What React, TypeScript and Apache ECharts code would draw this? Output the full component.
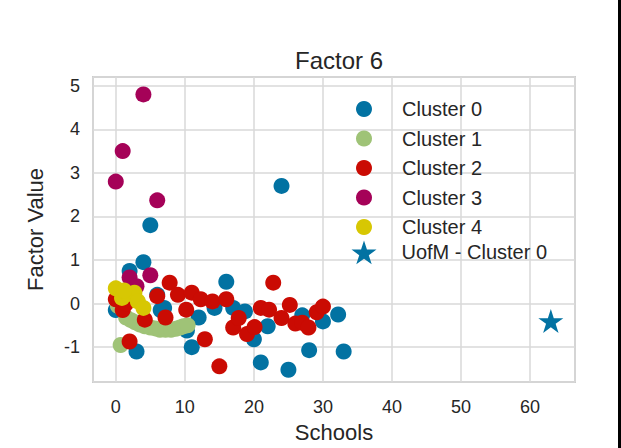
import React, { useEffect, useRef } from "react";
import * as echarts from "echarts";

const clusterNames = ["Cluster 0", "Cluster 1", "Cluster 2", "Cluster 3", "Cluster 4"];
const starName = "UofM - Cluster 0";
const colors = ["#0272a2", "#9fc377", "#ca0b03", "#a50258", "#d7c703"];

const cluster0 = [
  [0, -0.15], [2, 0.75], [4, 0.95], [5, 1.8], [24, 2.7], [6, 0.2], [7, -0.1], [6.5, -0.15],
  [3, -1.1], [10.3, -0.62], [11, -1.0], [12, -0.32], [14.3, -0.1], [16, 0.5], [17, -0.1],
  [18.7, -0.18], [20, -0.82], [22, -0.52], [21, -1.35], [25, -1.52], [27, -0.27], [28, -1.07],
  [30, -0.41], [32.2, -0.25], [33, -1.1],
];
const cluster1 = [
  [0.7, -0.95], [0.3, -0.05], [1.5, -0.32], [2.2, -0.38], [2.8, -0.43], [3.5, -0.48], [4.2, -0.52],
  [5, -0.55], [5.7, -0.57], [6.4, -0.6], [7.2, -0.6], [8, -0.6], [8.7, -0.58], [9.3, -0.55],
  [9.8, -0.52], [10.4, -0.5],
];
const cluster2 = [
  [0, 0.1], [1, -0.15], [1.5, 0.0], [2, -0.87], [4.2, -0.37], [6, 0.17], [7.2, -0.32], [7.8, 0.48],
  [9, 0.2], [10.2, -0.14], [11, 0.25], [12.3, 0.1], [12.9, -0.82], [14, 0.05], [15, -1.44],
  [16, 0.1], [17, -0.55], [17.8, -0.33], [19, -0.7], [20.1, -0.54], [21, -0.1], [22.2, -0.14],
  [22.8, 0.48], [24, -0.33], [25.2, -0.03], [26, -0.46], [27, -0.44], [27.9, -0.55], [29.1, -0.2],
  [30, -0.07],
];
const cluster3 = [[4, 4.8], [1, 3.5], [0, 2.8], [6, 2.37], [5, 0.65], [2, 0.6], [3, 0.4]];
const cluster4 = [[0, 0.35], [0.9, 0.13], [1.7, 0.22], [2.7, 0.25], [3.2, 0.05], [4, -0.1], [1.2, 0.3]];
const uofm = [[63, -0.4]];

const clusterData = [cluster0, cluster1, cluster2, cluster3, cluster4];

const STAR = "path://M50,0 L61.2,34.5 L97.6,34.5 L68.2,55.9 L79.4,90.5 L50,69.1 L20.6,90.5 L31.8,55.9 L2.4,34.5 L38.8,34.5 Z";

const FONT = "Liberation Sans, Arial, sans-serif";
const TXT = "#262626";

export default function App() {
  const ref = useRef<HTMLDivElement>(null);
  useEffect(() => {
    document.body.style.margin = "0";
    const chart = echarts.init(ref.current!, undefined, { renderer: "svg" });
    const series: any[] = clusterData.map((d, i) => ({
      name: clusterNames[i],
      type: "scatter",
      data: d,
      symbol: "circle",
      symbolSize: 16,
      itemStyle: { color: colors[i], opacity: 1 },
      z: 2 + i,
    }));
    series.push({
      name: starName,
      type: "scatter",
      data: uofm,
      symbol: STAR,
      symbolSize: [25, 24],
      itemStyle: { color: colors[0], opacity: 1 },
      z: 10,
    });
    chart.setOption({
      animation: false,
      backgroundColor: "#ffffff",
      textStyle: { fontFamily: FONT, color: TXT },
      title: {
        text: "Factor 6",
        left: 334,
        top: 43,
        textAlign: "center",
        textStyle: { fontFamily: FONT, fontSize: 24, fontWeight: "normal", color: TXT },
      },
      grid: {
        left: 93,
        right: 46,
        top: 77,
        bottom: 65,
        show: true,
        borderColor: "#cccccc",
        borderWidth: 2,
        backgroundColor: "transparent",
      },
      xAxis: {
        type: "value",
        min: -3.3,
        max: 66.5,
        splitNumber: 7,
        name: "Schools",
        nameLocation: "middle",
        nameGap: 39,
        nameTextStyle: { fontFamily: FONT, fontSize: 22, color: TXT },
        axisLine: { show: false },
        axisTick: { show: false },
        axisLabel: { showMinLabel: false, showMaxLabel: false, margin: 16, fontSize: 18, color: TXT, fontFamily: FONT },
        splitLine: { show: true, lineStyle: { color: "#d9d9d9", width: 1.5 } },
      },
      yAxis: {
        type: "value",
        min: -1.8,
        max: 5.2,
        splitNumber: 7,
        name: "Factor Value",
        nameLocation: "middle",
        nameGap: 47,
        nameTextStyle: { fontFamily: FONT, fontSize: 22, color: TXT },
        axisLine: { show: false },
        axisTick: { show: false },
        axisLabel: { showMinLabel: false, showMaxLabel: false, margin: 13, fontSize: 18, color: TXT, fontFamily: FONT },
        splitLine: { show: true, lineStyle: { color: "#d9d9d9", width: 1.5 } },
      },
      legend: [
        {
          data: clusterNames,
          orient: "vertical",
          left: 356,
          top: 99,
          itemWidth: 16,
          itemHeight: 16,
          itemGap: 9.5,
          icon: "circle",
          padding: 0,
          selectedMode: false,
          textStyle: { fontFamily: FONT, fontSize: 20, color: TXT, padding: [0, 0, 0, 25] },
        },
        {
          data: [{ name: starName, icon: STAR }],
          orient: "vertical",
          left: 351.5,
          top: 240.5,
          itemWidth: 25,
          itemHeight: 25,
          padding: 0,
          selectedMode: false,
          textStyle: { fontFamily: FONT, fontSize: 20, color: TXT, padding: [0, 0, 0, 20] },
        },
      ],
      graphic: [
        { type: "rect", left: 618, top: 0, shape: { x: 0, y: 0, width: 3, height: 448 }, style: { fill: "#000000" }, z: 100 },
      ],
      series,
    });
    return () => chart.dispose();
  }, []);
  return <div ref={ref} style={{ position: "fixed", left: 0, top: 0, width: 621, height: 448 }} />;
}
